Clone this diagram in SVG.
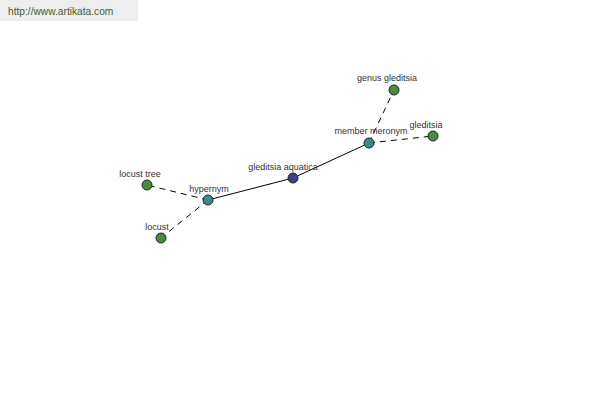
<svg xmlns="http://www.w3.org/2000/svg" width="600" height="400" viewBox="0 0 600 400">
<style>
text{font-family:"Liberation Sans",Arial,sans-serif;font-size:9px;fill:#333;text-anchor:middle}
.n{stroke:#222;stroke-width:1}
.g{fill:#4a8c3e}
.t{fill:#3d8a8c}
.b{fill:#3b3f8c}
.e{stroke:#000;stroke-width:1;fill:none}
.d{stroke-dasharray:6,5}
</style>
<rect x="0" y="0" width="138" height="21" fill="#eeeeee"/>
<text x="8" y="15" style="font-size:10.2px;fill:#4a5a2a;text-anchor:start">http://www.artikata.com</text>
<g id="connectors">
<line class="e" x1="208" y1="200" x2="293" y2="178"/>
<line class="e" x1="293" y1="178" x2="369" y2="143"/>
<line class="e d" x1="208" y1="200" x2="147" y2="185"/>
<line class="e d" x1="208" y1="200" x2="161" y2="238"/>
<line class="e d" x1="369" y1="143" x2="394" y2="90"/>
<line class="e d" x1="369" y1="143" x2="433" y2="136"/>
</g>
<g id="node-locust-tree"><circle class="n g" cx="147" cy="185" r="5"/><text x="140" y="177">locust tree</text></g>
<g id="node-hypernym"><circle class="n t" cx="208" cy="200" r="5"/><text x="209" y="192">hypernym</text></g>
<g id="node-gleditsia-aquatica"><circle class="n b" cx="293" cy="178" r="5"/><text x="283" y="170">gleditsia aquatica</text></g>
<g id="node-member-meronym"><circle class="n t" cx="369" cy="143" r="5"/><text x="371" y="134">member meronym</text></g>
<g id="node-genus-gleditsia"><circle class="n g" cx="394" cy="90" r="5"/><text x="387" y="81">genus gleditsia</text></g>
<g id="node-gleditsia"><circle class="n g" cx="433" cy="136" r="5"/><text x="426" y="128">gleditsia</text></g>
<g id="node-locust"><circle class="n g" cx="161" cy="238" r="5"/><text x="157" y="230">locust</text></g>
</svg>
